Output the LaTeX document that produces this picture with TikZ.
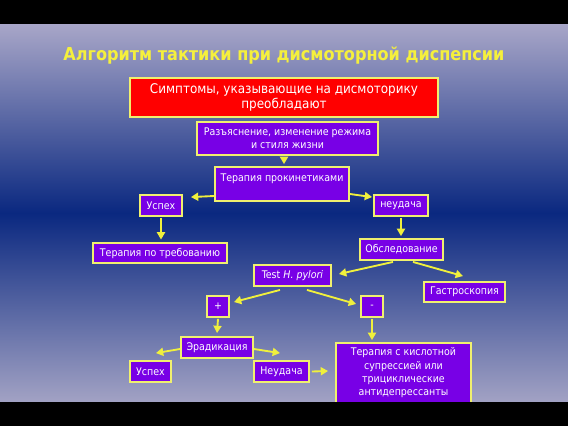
\documentclass[tikz,border=0pt]{standalone}
\usepackage{fontspec}
\setmainfont{DejaVu Sans Condensed}
\usetikzlibrary{arrows.meta,calc,shadows}
\definecolor{boxpurple}{RGB}{120,0,230}
\definecolor{boxred}{RGB}{255,0,0}
\definecolor{edgeyellow}{RGB}{240,240,110}
\definecolor{arrowyellow}{RGB}{240,240,60}
\definecolor{titleyellow}{RGB}{245,240,60}
\definecolor{bgtop}{RGB}{168,166,200}
\definecolor{bgmid}{RGB}{10,40,128}
\definecolor{bgbot}{RGB}{162,162,196}
\tikzset{
  boxnode/.style={draw=edgeyellow, line width=1.4pt, fill=boxpurple, text=white,
    inner sep=0pt, align=center, font=\fontsize{7.9}{9.6}\selectfont,
    drop shadow={shadow xshift=1.1pt, shadow yshift=-1.1pt, opacity=0.55, fill=black}},
  arr/.style={draw=arrowyellow, line width=1.4pt, -{Triangle[length=5.5pt,width=6pt]}}
}
\begin{document}
\begin{tikzpicture}[x=0.75pt,y=-0.75pt]
\useasboundingbox (0,0) rectangle (568,426);
\fill[black] (0,0) rectangle (568,426);
\shade[top color=bgtop, bottom color=bgbot, middle color=bgmid] (0,24) rectangle (568,402);

\node[text=titleyellow, font=\fontsize{13.4}{16}\selectfont\bfseries] (title) at (284,56) {Алгоритм тактики при дисмоторной диспепсии};

\node[boxnode, fill=boxred, minimum width=308*0.75pt, minimum height=39*0.75pt, font=\fontsize{10}{11.3}\selectfont] (red) at (284,97.5) {Симптомы, указывающие на дисмоторику\\преобладают};
\node[boxnode, minimum width=181*0.75pt, minimum height=33*0.75pt] (expl) at (287.5,138.5) {Разъяснение, изменение режима\\и стиля жизни};
\node[boxnode, minimum width=134*0.75pt, minimum height=34*0.75pt, text depth=10pt] (tp) at (282,184) {Терапия прокинетиками};
\node[boxnode, minimum width=42*0.75pt, minimum height=21*0.75pt] (u1) at (161,205.5) {Успех};
\node[boxnode, minimum width=54*0.75pt, minimum height=21*0.75pt] (fail1) at (401,205.5) {неудача};
\node[boxnode, minimum width=134*0.75pt, minimum height=20*0.75pt] (ondemand) at (160,253) {Терапия по требованию};
\node[boxnode, minimum width=83*0.75pt, minimum height=21*0.75pt] (exam) at (401.5,249.5) {Обследование};
\node[boxnode, minimum width=77*0.75pt, minimum height=21*0.75pt] (test) at (292.5,275.5) {Test \textit{H. pylori}};
\node[boxnode, minimum width=81*0.75pt, minimum height=20*0.75pt] (gastro) at (464.5,292) {Гастроскопия};
\node[boxnode, minimum width=22*0.75pt, minimum height=21*0.75pt] (plus) at (218,306.5) {+};
\node[boxnode, minimum width=22*0.75pt, minimum height=21*0.75pt] (minus) at (372,306.5) {-};
\node[boxnode, minimum width=72*0.75pt, minimum height=21*0.75pt] (erad) at (217,347.5) {Эрадикация};
\node[boxnode, minimum width=41*0.75pt, minimum height=21*0.75pt] (u2) at (150.5,371.5) {Успех};
\node[boxnode, minimum width=55*0.75pt, minimum height=21*0.75pt] (fail2) at (281.5,371.5) {Неудача};
\node[boxnode, minimum width=135*0.75pt, minimum height=60*0.75pt, font=\fontsize{7.9}{10}\selectfont] (acid) at (403.5,373) {Терапия с кислотной\\супрессией или\\трициклические\\антидепрессанты};

\draw[arr] ($(expl.south)+(-3.5,1)$) -- ($(tp.north)+(2,-2)$);
\draw[arr] ($(tp.west)+(0,12)$) -- ($(u1.north east)+(8,3)$);
\draw[arr] ($(tp.east)+(0,10)$) -- ($(fail1.north west)+(-1,3)$);
\draw[arr] ($(u1.south)+(0,1)$) -- ($(ondemand.north)+(1,-2.5)$);
\draw[arr] ($(fail1.south)+(0,1)$) -- ($(exam.north)+(-0.5,-2)$);
\draw[arr] ($(exam.south)+(-8.5,1)$) -- ($(test.east)+(7,-1.5)$);
\draw[arr] ($(exam.south)+(11.5,1)$) -- ($(gastro.north)+(-1.5,-5)$);
\draw[arr] ($(test.south)+(-12.5,3)$) -- ($(plus.east)+(4,-4.5)$);
\draw[arr] ($(test.south)+(14.5,3)$) -- ($(minus.west)+(-4,-2.5)$);
\draw[arr] ($(plus.south)+(0,1)$) -- ($(erad.north)+(0,-3)$);
\draw[arr] ($(minus.south)+(0,1)$) -- ($(acid.north)+(-31.5,-2)$);
\draw[arr] ($(erad.west)+(0,1.5)$) -- ($(u2.north east)+(-16,-7)$);
\draw[arr] ($(erad.east)+(0,1.5)$) -- ($(fail2.north)+(-1.5,-7)$);
\draw[arr] ($(fail2.east)+(2,0)$) -- ($(acid.west)+(-7,-2)$);

\fill[black] (0,402) rectangle (568,426);
\end{tikzpicture}
\end{document}
